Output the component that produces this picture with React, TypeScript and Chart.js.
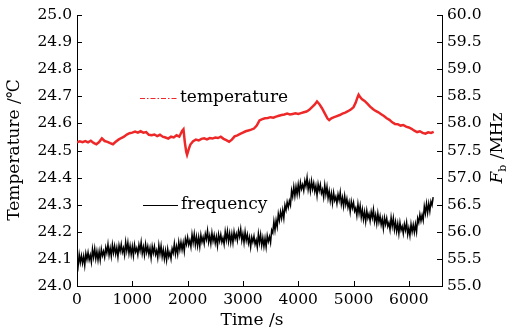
import React, { useEffect, useRef } from "react";
import { Chart, registerables } from "chart.js";
Chart.register(...registerables);

const xTicks = [0, 1000, 2000, 3000, 4000, 5000, 6000];
const tempTicks = [24.0, 24.1, 24.2, 24.3, 24.4, 24.5, 24.6, 24.7, 24.8, 24.9, 25.0];
const freqTicks = [55.0, 55.5, 56.0, 56.5, 57.0, 57.5, 58.0, 58.5, 59.0, 59.5, 60.0];

const tempTime = [0,50,100,150,200,250,300,350,400,450,500,550,600,650,700,750,800,850,900,950,1000,1050,1100,1150,1200,1250,1300,1350,1400,1450,1500,1550,1600,1650,1700,1750,1800,1850,1900,1925,1950,1975,1990,2025,2050,2100,2150,2200,2250,2300,2350,2400,2450,2500,2550,2600,2650,2700,2750,2800,2850,2900,2950,3000,3050,3100,3150,3200,3250,3300,3350,3400,3450,3500,3550,3600,3650,3700,3750,3800,3850,3900,3950,4000,4050,4100,4150,4200,4250,4300,4340,4380,4430,4480,4530,4560,4600,4650,4700,4750,4800,4850,4900,4950,5000,5040,5070,5092,5120,5150,5200,5250,5300,5350,5400,5450,5500,5550,5600,5650,5700,5750,5800,5850,5900,5950,6000,6050,6100,6150,6200,6250,6300,6350,6400,6450];
const tempValue = [24.530,24.534,24.531,24.535,24.530,24.536,24.528,24.523,24.531,24.545,24.535,24.532,24.527,24.523,24.532,24.540,24.546,24.551,24.559,24.564,24.566,24.570,24.566,24.571,24.566,24.568,24.558,24.556,24.559,24.553,24.558,24.551,24.548,24.544,24.551,24.548,24.556,24.551,24.572,24.578,24.530,24.495,24.484,24.508,24.522,24.534,24.540,24.537,24.543,24.545,24.541,24.546,24.544,24.548,24.546,24.551,24.543,24.538,24.532,24.540,24.552,24.556,24.561,24.566,24.571,24.574,24.577,24.581,24.592,24.611,24.616,24.619,24.620,24.623,24.621,24.625,24.628,24.631,24.633,24.636,24.633,24.635,24.637,24.635,24.638,24.641,24.644,24.650,24.660,24.670,24.681,24.672,24.656,24.637,24.618,24.612,24.619,24.623,24.627,24.631,24.636,24.640,24.645,24.651,24.660,24.677,24.695,24.706,24.697,24.690,24.683,24.673,24.662,24.653,24.646,24.641,24.634,24.627,24.619,24.613,24.604,24.598,24.597,24.592,24.594,24.588,24.585,24.580,24.573,24.568,24.571,24.565,24.562,24.567,24.565,24.569];

// frequency sampled every 20 s starting at 0 s
const freqStart = 0;
const freqStep = 20;
const freqValue = [
55.51,55.37,55.58,55.43,55.56, 55.42,55.55,55.38,55.60,55.49, 55.62,55.48,55.57,55.44,55.68, 55.53,55.69,55.50,55.64,55.48,
55.64,55.48,55.68,55.56,55.64, 55.53,55.71,55.61,55.77,55.57, 55.70,55.55,55.76,55.61,55.74, 55.59,55.71,55.54,55.75,55.64,
55.77,55.62,55.70,55.57,55.81, 55.65,55.80,55.60,55.74,55.58, 55.73,55.56,55.76,55.63,55.70, 55.58,55.76,55.65,55.81,55.60,
55.72,55.57,55.77,55.62,55.73, 55.58,55.70,55.52,55.73,55.61, 55.73,55.58,55.66,55.52,55.75, 55.59,55.74,55.54,55.67,55.50,
55.65,55.48,55.68,55.54,55.62, 55.50,55.69,55.61,55.78,55.59, 55.73,55.59,55.81,55.67,55.81, 55.67,55.80,55.64,55.87,55.77,
55.90,55.76,55.84,55.72,55.95, 55.80,55.96,55.76,55.91,55.74, 55.90,55.73,55.94,55.81,55.90, 55.78,55.96,55.86,56.02,55.81,
55.93,55.78,55.98,55.83,55.94, 55.79,55.91,55.74,55.95,55.83, 55.95,55.81,55.89,55.77,56.00, 55.85,56.01,55.82,55.97,55.80,
55.96,55.80,56.00,55.87,55.96, 55.84,56.02,55.91,56.05,55.84, 55.96,55.80,56.00,55.84,55.95, 55.79,55.90,55.72,55.90,55.81,
55.92,55.77,55.85,55.72,55.96, 55.80,55.95,55.75,55.89,55.73, 55.88,55.72,55.93,55.82,55.91, 55.80,56.03,55.98,56.19,56.03,
56.21,56.09,56.33,56.21,56.37, 56.25,56.40,56.25,56.49,56.40, 56.55,56.45,56.57,56.49,56.76, 56.65,56.83,56.66,56.83,56.69,
56.87,56.71,56.91,56.79,56.87, 56.76,56.94,56.84,57.00,56.78, 56.91,56.75,56.94,56.79,56.90, 56.74,56.85,56.67,56.88,56.76,
56.87,56.71,56.78,56.64,56.86, 56.69,56.83,56.62,56.75,56.57, 56.71,56.53,56.72,56.58,56.65, 56.52,56.69,56.58,56.73,56.51,
56.63,56.47,56.66,56.50,56.61, 56.45,56.55,56.37,56.56,56.44, 56.54,56.38,56.44,56.30,56.51, 56.34,56.48,56.27,56.41,56.23,
56.37,56.19,56.39,56.25,56.33, 56.20,56.37,56.26,56.41,56.19, 56.31,56.15,56.34,56.18,56.29, 56.13,56.24,56.06,56.26,56.14,
56.25,56.10,56.17,56.04,56.26, 56.10,56.25,56.04,56.18,56.01, 56.15,55.97,56.17,56.03,56.10, 55.97,56.14,56.03,56.17,55.95,
56.07,55.93,56.14,56.00,56.13, 55.99,56.14,56.00,56.25,56.17, 56.32,56.20,56.31,56.21,56.47, 56.34,56.52,56.35,56.52,56.38,
56.56,56.49,56.64
];

const FONT = "'DejaVu Serif', serif";

const decorPlugin = {
  id: "decor",
  afterDraw(chart: any) {
    const ctx = chart.ctx;
    const { left, right, bottom } = chart.chartArea;
    const xs = chart.scales.x, ys = chart.scales.y, y1 = chart.scales.y1;
    ctx.save();
    ctx.strokeStyle = "#000";
    ctx.lineWidth = 1;
    ctx.beginPath();
    xs.ticks.forEach((_t: any, i: number) => {
      const px = Math.round(xs.getPixelForTick(i)) + 0.5;
      ctx.moveTo(px, bottom); ctx.lineTo(px, bottom - 5);
    });
    ys.ticks.forEach((_t: any, i: number) => {
      const py = Math.round(ys.getPixelForTick(i)) + 0.5;
      ctx.moveTo(left, py); ctx.lineTo(left + 5, py);
    });
    y1.ticks.forEach((_t: any, i: number) => {
      const py = Math.round(y1.getPixelForTick(i)) + 0.5;
      ctx.moveTo(right, py); ctx.lineTo(right - 5, py);
    });
    ctx.stroke();

    ctx.fillStyle = "#000";
    ctx.font = `17px ${FONT}`;
    ctx.textAlign = "center";
    ctx.textBaseline = "middle";
    ctx.fillText("Time /s", 252, 321);
    ctx.save();
    ctx.translate(15, 150);
    ctx.rotate(-Math.PI / 2);
    ctx.fillText("Temperature /\u2103", 0, 0);
    ctx.restore();
    ctx.save();
    ctx.translate(498, 148);
    ctx.rotate(-Math.PI / 2);
    ctx.textAlign = "left";
    ctx.font = `italic 17px ${FONT}`;
    const wF = ctx.measureText("F").width;
    ctx.font = `11px ${FONT}`;
    const wb = ctx.measureText("b").width;
    ctx.font = `17px ${FONT}`;
    const wr = ctx.measureText(" /MHz").width;
    let x0 = -(wF + wb + wr) / 2;
    ctx.font = `italic 17px ${FONT}`;
    ctx.fillText("F", x0, 0);
    x0 += wF;
    ctx.font = `11px ${FONT}`;
    ctx.fillText("b", x0, 5);
    x0 += wb;
    ctx.font = `17px ${FONT}`;
    ctx.fillText(" /MHz", x0, 0);
    ctx.restore();

    ctx.textAlign = "left";
    ctx.font = `17px ${FONT}`;
    ctx.strokeStyle = "rgb(238,40,40)";
    ctx.lineWidth = 1.2;
    ctx.setLineDash([5, 2, 1.5, 2]);
    ctx.beginPath();
    ctx.moveTo(140, 98.5); ctx.lineTo(177, 98.5);
    ctx.stroke();
    ctx.setLineDash([]);
    ctx.fillText("temperature", 180, 98);
    ctx.strokeStyle = "#000";
    ctx.lineWidth = 1;
    ctx.beginPath();
    ctx.moveTo(143, 205.5); ctx.lineTo(178, 205.5);
    ctx.stroke();
    ctx.fillText("frequency", 181, 205);
    ctx.restore();
  },
};

export default function App() {
  const ref = useRef<HTMLCanvasElement>(null);
  useEffect(() => {
    if (!ref.current) return;
    const tickFont = { family: FONT, size: 15.5 };
    const setTicks = (arr: number[]) => (s: any) => { s.ticks = arr.map((v) => ({ value: v })); };
    const chart = new Chart(ref.current, {
      type: "line",
      data: {
        datasets: [
          {
            label: "temperature",
            data: tempTime.map((t, i) => ({ x: t, y: tempValue[i] })),
            borderColor: "rgb(238,40,40)",
            borderWidth: 2.5,
            pointRadius: 0,
            yAxisID: "y",
            tension: 0,
          },
          {
            label: "frequency",
            data: freqValue.map((v, i) => ({ x: freqStart + i * freqStep, y: v })),
            borderColor: "#000",
            borderWidth: 1.5,
            pointRadius: 0,
            yAxisID: "y1",
            tension: 0,
          },
        ],
      },
      options: {
        animation: false,
        responsive: true,
        maintainAspectRatio: false,
        layout: { padding: { top: 15, left: 0, right: 0, bottom: 0 } },
        plugins: { legend: { display: false }, tooltip: { enabled: false } },
        scales: {
          x: {
            type: "linear",
            min: 0,
            max: 6600,
            grid: { display: false, drawTicks: false },
            border: { display: true, color: "#000", width: 1 },
            afterBuildTicks: setTicks(xTicks),
            ticks: {
              autoSkip: false,
              maxRotation: 0,
              padding: 5,
              color: "#000",
              font: tickFont,
              callback: (v: any) => String(v),
            },
            afterFit: (s: any) => { s.height = 45; },
          },
          y: {
            position: "left",
            min: 24,
            max: 25,
            grid: { display: false, drawTicks: false },
            border: { display: true, color: "#000", width: 1 },
            afterBuildTicks: setTicks(tempTicks),
            ticks: {
              autoSkip: false,
              padding: 5,
              color: "#000",
              font: tickFont,
              callback: (v: any) => Number(v).toFixed(1),
            },
            afterFit: (s: any) => { s.width = 77; },
          },
          y1: {
            position: "right",
            min: 55,
            max: 60,
            grid: { display: false, drawTicks: false },
            border: { display: true, color: "#000", width: 1 },
            afterBuildTicks: setTicks(freqTicks),
            ticks: {
              autoSkip: false,
              padding: 5,
              color: "#000",
              font: tickFont,
              callback: (v: any) => Number(v).toFixed(1),
            },
            afterFit: (s: any) => { s.width = 69; },
          },
        },
      },
      plugins: [decorPlugin],
    });
    return () => chart.destroy();
  }, []);
  return (
    <div style={{ position: "fixed", left: 0, top: 0, width: 511, height: 331, background: "#fff" }}>
      <canvas ref={ref} />
    </div>
  );
}
